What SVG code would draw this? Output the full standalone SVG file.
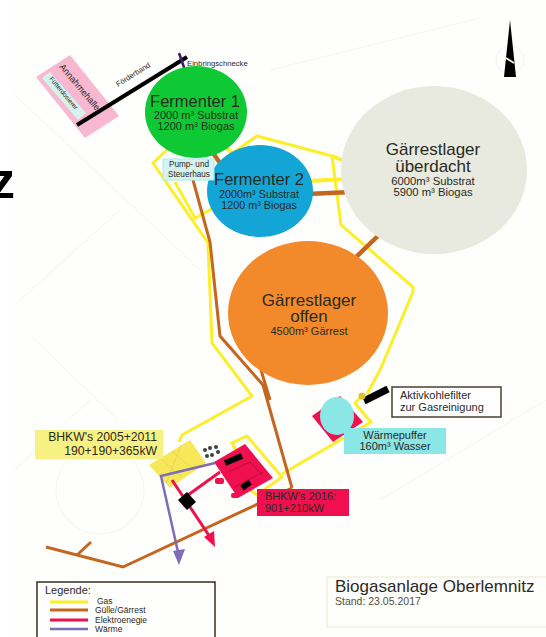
<svg xmlns="http://www.w3.org/2000/svg" width="546" height="637" viewBox="0 0 546 637">
<style>
text{font-family:"Liberation Sans",Arial,sans-serif;fill:#2a2a1e}
.c{text-anchor:middle}
.f{fill:none;stroke-linejoin:miter}
.y{stroke:#fdee2a;stroke-width:3}
.yt{stroke:#fdee2a;stroke-width:4}
.o{stroke:#c4661e;stroke-width:3}
.ot{stroke:#c4661e;stroke-width:4.5}
.r{stroke:#f0104f;stroke-width:3}
.p{stroke:#7d6db8;stroke-width:2.5}
.faint{fill:none;stroke:#f6f6f0;stroke-width:1}
</style>
<defs>
<clipPath id="legclip"><rect x="30" y="575" width="200" height="57"/></clipPath>
</defs>
<rect width="546" height="637" fill="#ffffff"/>
<g id="background">
<rect x="14" y="0" width="532" height="637" fill="#fefefc"/>
<path class="faint" d="M15 95L200 270M20 300L120 210M270 70L480 18M30 335L170 470M380 500L546 400M15 470L90 400"/>
<circle class="faint" cx="100" cy="490" r="44"/>
</g>
<text x="-10" y="198" font-size="50" font-weight="700" style="fill:#000">z</text>
<g id="north-arrow">
<circle cx="510" cy="60" r="14" fill="none" stroke="#f2f2f2"/>
<polygon points="510,20 504,77 516,77" fill="#000"/>
<path d="M506 58L514 63" stroke="#fff" stroke-width="1.5" fill="none"/>
</g>
<g id="connectors">
<path class="f y" d="M169 148L153 163L208 243L212 343L252 396L182 435L179 442"/>
<path class="f y" d="M175 182L195 218"/>
<path class="f y" d="M192 220L215 207"/>
<path class="f y" d="M230 155L257 136L332 156L341 225L413 287L413 292L380 370L367 394"/>
<path class="f y" d="M362 396L355 403L371 422L282 474"/>
<path class="f y" d="M237 452L232 443L247 436L282 477L257 495L248 488"/>
<path class="f yt" d="M225 146L237 158"/>
<path class="f yt" d="M332 156L349 163"/>
<path class="f yt" d="M309 181L347 179"/>
<path class="f o" d="M193 180L210 242L220 336L263 385L292 488"/>
<path class="f o" d="M261 370L270 400"/>
<path class="f o" d="M46 547L123 567L292 488"/>
<path class="f o" d="M77 555L91 542"/>
<path class="f ot" d="M213 153L220 163"/>
<path class="f ot" d="M307 194L352 192"/>
<path class="f ot" d="M382 232L353 260"/>
</g>
<g id="annahmehalle">
<polygon points="36,77 70,55 119,116 85,138" fill="#f8b9d0"/>
<polygon points="42,78 50,72 86,113 78,120" fill="#d6f2ee"/>
<text transform="translate(59,67) rotate(50)" font-size="9">Annahmehalle</text>
<text transform="translate(49,79) rotate(50)" font-size="6.5">Fütterdosierer</text>
</g>
<g id="foerderband">
<path d="M77 125L187 57" stroke="#000" stroke-width="4"/>
<path d="M179 53L187 76" stroke="#3c1a66" stroke-width="2.5"/>
<text transform="translate(118,87) rotate(-32)" font-size="7.5">Förderband</text>
<text x="187" y="66" font-size="7.7">Einbringschnecke</text>
</g>
<g id="fermenter1">
<ellipse cx="196" cy="112" rx="51" ry="46" fill="#0fc934"/>
<text class="c" x="195" y="107" font-size="16.5">Fermenter 1</text>
<text class="c" x="196" y="119" font-size="11">2000 m³ Substrat</text>
<text class="c" x="196" y="130" font-size="11">1200 m³ Biogas</text>
</g>
<g id="fermenter2">
<ellipse cx="260" cy="191" rx="53" ry="46" fill="#13a5d6"/>
<text class="c" x="259" y="185" font-size="16.5">Fermenter 2</text>
<text class="c" x="259" y="198" font-size="10.8">2000m³ Substrat</text>
<text class="c" x="259" y="209" font-size="10.8">1200 m³ Biogas</text>
</g>
<g id="pumphaus">
<rect x="163" y="159" width="51" height="21" fill="#d6f2ee" stroke="#a4ecec"/>
<text class="c" x="189" y="167" font-size="8.2">Pump- und</text>
<text class="c" x="189" y="176.5" font-size="8.2">Steuerhaus</text>
</g>
<g id="gaerrest-ueberdacht">
<ellipse cx="434" cy="170" rx="93" ry="84" fill="#e8e9df"/>
<text class="c" x="433" y="155" font-size="17">Gärrestlager</text>
<text class="c" x="433" y="172" font-size="17">überdacht</text>
<text class="c" x="433" y="185" font-size="11.3">6000m³ Substrat</text>
<text class="c" x="433" y="196" font-size="11.3">5900 m³ Biogas</text>
</g>
<g id="gaerrest-offen">
<ellipse cx="308" cy="313" rx="80" ry="72" fill="#f28a2c"/>
<text class="c" x="309" y="306" font-size="17">Gärrestlager</text>
<text class="c" x="309" y="322" font-size="17">offen</text>
<text class="c" x="309" y="335" font-size="11">4500m³ Gärrest</text>
</g>
<g id="bhkw-alt">
<polygon points="149,465 190,440 206,463 170,488" fill="#f7e85a"/>
<path d="M160 458L182 477M172 451L194 470M181 445L166 484" stroke="#e3cf4a" stroke-width="0.7" fill="none"/>
<g fill="#39443f"><circle cx="205" cy="450" r="2"/><circle cx="210" cy="448" r="2"/><circle cx="216" cy="447" r="2"/><circle cx="207" cy="456" r="2"/><circle cx="212" cy="455" r="2"/><circle cx="218" cy="452" r="2"/></g>
<rect x="35" y="430" width="128" height="29" fill="#f7f082"/>
<text x="157" y="441" font-size="12.2" text-anchor="end">BHKW's 2005+2011</text>
<text x="157" y="454.5" font-size="12.2" text-anchor="end">190+190+365kW</text>
</g>
<g id="bhkw-2016">
<polygon points="214,462 245,444 273,478 238,498" fill="#f0104f"/>
<rect x="215" y="478" width="9" height="6" rx="2" fill="#f0104f"/>
<rect x="231" y="493" width="8" height="5" rx="2" fill="#f0104f"/>
<path d="M225 463L242 456M242 488L250 482" stroke="#000" stroke-width="6"/>
<path d="M228 472L250 462L262 475M233 488L263 472" stroke="#c00c40" fill="none"/>
<rect x="257" y="489" width="92" height="27" fill="#f0104f"/>
<text x="265" y="500" font-size="11">BHKW's 2016:</text>
<text x="265" y="511.5" font-size="11">901+210kW</text>
</g>
<g id="waermepfade">
<path class="f p" d="M215 463L161 476L178 552"/>
<polygon points="179,565 173,551 185,549" fill="#7d6db8"/>
<path class="f r" d="M172 480L210 537"/>
<polygon points="215,547 204,537 214,531" fill="#f0104f"/>
<path class="f r" d="M220 472L188 495"/>
<polygon points="178,500 187,492 196,502 187,510" fill="#000"/>
</g>
<g id="waermepuffer">
<polygon points="312,416 340,396 363,422 333,442" fill="#f0104f"/>
<ellipse cx="337" cy="416" rx="17" ry="19" fill="#8be6e6"/>
<rect x="344" y="428" width="102" height="26" fill="#8be6e6"/>
<text class="c" x="395" y="439" font-size="11">Wärmepuffer</text>
<text class="c" x="395" y="450" font-size="11">160m³ Wasser</text>
</g>
<g id="aktivkohlefilter">
<path d="M364 401L388 389" stroke="#000" stroke-width="7"/>
<circle cx="362" cy="396" r="3.5" fill="#d8c72a"/>
<rect x="392" y="387" width="109" height="30" fill="#fff" stroke="#4a4030" stroke-width="1.5"/>
<text x="400" y="399" font-size="11">Aktivkohlefilter</text>
<text x="400" y="411" font-size="11">zur Gasreinigung</text>
</g>
<g id="legende">
<path d="M37 637V582H215V637" fill="none" stroke="#3a2e20" stroke-width="1.5"/>
<text x="45" y="594" font-size="11">Legende:</text>
<path d="M50 602H88" class="y"/>
<path d="M50 610H88" class="o"/>
<path d="M50 620H88" class="r"/>
<path d="M50 629H88" class="p"/>
<g clip-path="url(#legclip)">
<text x="97" y="604" font-size="8.5">Gas</text>
<text x="95" y="613" font-size="8.5">Gülle/Gärrest</text>
<text x="95" y="623" font-size="8.5">Elektroenegie</text>
<text x="95" y="632" font-size="8.5">Wärme</text>
</g>
</g>
<g id="titel">
<path d="M546 577H327V627H546" fill="none" stroke="#efe9cf"/>
<text x="335" y="592" font-size="17">Biogasanlage Oberlemnitz</text>
<text x="335" y="604.5" font-size="10.5" style="fill:#55503c">Stand: 23.05.2017</text>
</g>
</svg>
